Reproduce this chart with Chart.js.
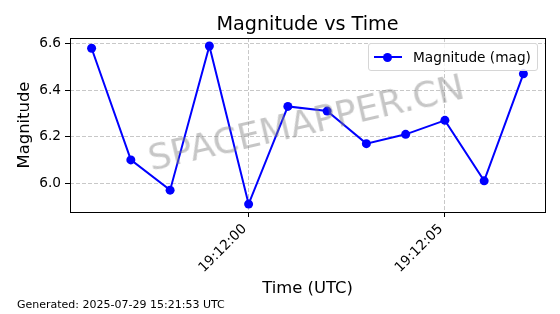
<!DOCTYPE html>
<html>
<head>
<meta charset="utf-8">
<script src="https://cdn.jsdelivr.net/npm/chart.js@4/dist/chart.umd.min.js"></script>
<style>
    body { margin: 0; background: #fff; }
    #wrap { position: relative; width: 560px; height: 314px; font-family: "DejaVu Sans", sans-serif; overflow: hidden; }
    #chart { position: absolute; left: 0; top: 0; }
    .legend {
        position: absolute; left: 368px; top: 43px; width: 168px; height: 26px;
        border: 1px solid #d6d6d6; border-radius: 3px; background: rgba(255,255,255,0.8);
    }
    .legend .line { position: absolute; left: 5px; top: 12px; width: 28px; height: 2px; background: #0000ff; }
    .legend .dot { position: absolute; left: 14px; top: 8.5px; width: 9px; height: 9px; border-radius: 50%; background: #0000ff; }
    .legend .label { position: absolute; left: 44px; top: 4px; font-size: 13.7px; line-height: 18px; color: #000; white-space: nowrap; }
    .watermark {
        position: absolute; left: 306px; top: 122px; font-size: 36px; color: rgba(128,128,128,0.45);
        transform: translate(-50%, -50%) rotate(-13deg); white-space: nowrap; pointer-events: none;
    }
    .footer { position: absolute; left: 17px; top: 298px; font-size: 11px; line-height: 13px; color: #000; white-space: nowrap; }
</style>
</head>
<body>
<div id="wrap">
    <canvas id="chart" width="560" height="314"></canvas>
    <div class="legend"><div class="line"></div><div class="dot"></div><div class="label">Magnitude (mag)</div></div>
    <div class="watermark">SPACEMAPPER.CN</div>
    <div class="footer">Generated: 2025-07-29 15:21:53 UTC</div>
</div>
<script>
// Data
const TIMES = ['19:11:56', '19:11:57', '19:11:58', '19:11:59', '19:12:00', '19:12:01',
               '19:12:02', '19:12:03', '19:12:04', '19:12:05', '19:12:06', '19:12:07'];
const MAGNITUDES = [6.58, 6.10, 5.97, 6.59, 5.91, 6.33, 6.31, 6.17, 6.21, 6.27, 6.01, 6.47];
const X_TICKS = ['19:12:00', '19:12:05'];
const Y_TICKS = [6.0, 6.2, 6.4, 6.6];

const FONT = '"DejaVu Sans", sans-serif';

// Convert HH:MM:SS to seconds
function toSeconds(t) {
    const p = t.split(':').map(Number);
    return p[0] * 3600 + p[1] * 60 + p[2];
}

function formatTime(sec) {
    const h = Math.floor(sec / 3600);
    const m = Math.floor((sec % 3600) / 60);
    const s = Math.round(sec % 60);
    return [h, m, s].map(v => String(v).padStart(2, '0')).join(':');
}

const xs = TIMES.map(toSeconds);
const points = xs.map((x, i) => ({ x: x, y: MAGNITUDES[i] }));

// matplotlib-like 5% margins
const xMin = Math.min(...xs), xMax = Math.max(...xs);
const yMin = Math.min(...MAGNITUDES), yMax = Math.max(...MAGNITUDES);
const xPad = (xMax - xMin) * 0.05, yPad = (yMax - yMin) * 0.05;

// Frame around plot area
const framePlugin = {
    id: 'frame',
    afterDatasetsDraw(chart) {
        const a = chart.chartArea;
        const ctx = chart.ctx;
        ctx.save();
        ctx.strokeStyle = '#000';
        ctx.lineWidth = 1;
        ctx.strokeRect(Math.round(a.left) + 0.5, Math.round(a.top) + 0.5,
            Math.round(a.right - a.left), Math.round(a.bottom - a.top));
        ctx.restore();
    }
};

const gridOpts = {
    color: 'rgba(176,176,176,0.7)',
    lineWidth: 1,
    tickColor: '#000',
    tickLength: 5,
    tickWidth: 1
};

new Chart(document.getElementById('chart').getContext('2d'), {
    type: 'line',
    data: {
        datasets: [{
            label: 'Magnitude (mag)',
            data: points,
            borderColor: '#0000ff',
            backgroundColor: '#0000ff',
            borderWidth: 2,
            tension: 0,
            pointRadius: 4.5,
            pointBorderWidth: 0,
            pointBackgroundColor: '#0000ff'
        }]
    },
    options: {
        responsive: false,
        animation: false,
        devicePixelRatio: 1,
        layout: { padding: { left: 0, right: 15, top: 0, bottom: 0 } },
        plugins: {
            legend: { display: false },
            tooltip: { enabled: false },
            title: {
                display: true,
                text: 'Magnitude vs Time',
                fullSize: false,
                color: '#000',
                font: { family: FONT, size: 19.2, weight: 'normal' },
                padding: { top: 13, bottom: 2 }
            }
        },
        scales: {
            x: {
                type: 'linear',
                min: xMin - xPad,
                max: xMax + xPad,
                grid: gridOpts,
                border: { display: false, dash: [4, 2] },
                afterBuildTicks(scale) {
                    scale.ticks = X_TICKS.map(t => ({ value: toSeconds(t) }));
                },
                afterFit(scale) { scale.height = 102; },
                ticks: {
                    color: '#000',
                    font: { family: FONT, size: 13.7 },
                    minRotation: 45,
                    maxRotation: 45,
                    padding: 4,
                    labelOffset: -4,
                    callback: v => formatTime(v)
                },
                title: {
                    display: true,
                    text: 'Time (UTC)',
                    color: '#000',
                    font: { family: FONT, size: 16.4 },
                    padding: { top: 0, bottom: 15 }
                }
            },
            y: {
                min: yMin - yPad,
                max: yMax + yPad,
                grid: gridOpts,
                border: { display: false, dash: [4, 2] },
                afterBuildTicks(scale) {
                    scale.ticks = Y_TICKS.map(v => ({ value: v }));
                },
                afterFit(scale) { scale.width = 70; },
                ticks: {
                    color: '#000',
                    font: { family: FONT, size: 13.7 },
                    padding: 4,
                    callback: v => v.toFixed(1)
                },
                title: {
                    display: true,
                    text: 'Magnitude',
                    color: '#000',
                    font: { family: FONT, size: 16.4 },
                    padding: { top: 15, bottom: 0 }
                }
            }
        }
    },
    plugins: [framePlugin]
});
</script>
</body>
</html>
